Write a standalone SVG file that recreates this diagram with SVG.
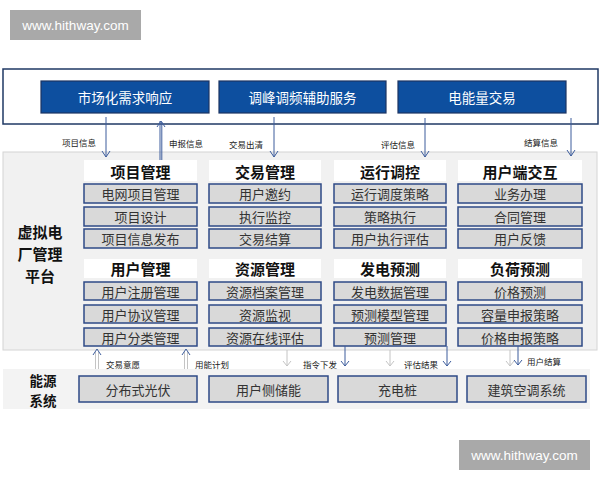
<svg xmlns="http://www.w3.org/2000/svg" width="600" height="480" viewBox="0 0 600 480">
<defs>
<style>
text{font-family:"Noto Sans CJK SC","Liberation Sans",sans-serif;text-anchor:middle;dominant-baseline:central}
.wm{fill:#a9a9a9}
.wmt{fill:#fff;font-size:13.5px;font-family:"Liberation Sans","Noto Sans",sans-serif}
.blue{fill:#0d4f9f;stroke:#1b3463;stroke-width:1.2}
.bt{fill:#fff;font-size:13.5px}
.hd{fill:#fff}
.ht{fill:#111;font-size:15px;font-weight:bold}
.it{fill:#d9d9d9;stroke:#2e4a86;stroke-width:1.5}
.itt{fill:#333;font-size:13px}
.lbl{fill:#222;font-size:8.5px}
.side{fill:#111;font-size:15px;font-weight:bold}
.ln{stroke:#3c5c9c;stroke-width:1;fill:none}
.gl{stroke:#c4c4c4;stroke-width:1;fill:none}
</style>
</defs>

<g id="watermark-top"><rect class="wm" x="10" y="10" width="131" height="30"/><text class="wmt" x="75.5" y="25">www.hithway.com</text></g>
<g id="watermark-bottom"><rect class="wm" x="459" y="440" width="131" height="30"/><text class="wmt" x="524.5" y="455">www.hithway.com</text></g>

<g id="market-frame"><rect x="3" y="69" width="595" height="55" fill="#fff" stroke="#1f3864" stroke-width="1.5"/></g>
<g id="market-1"><rect class="blue" x="41" y="81" width="168" height="32"/><text class="bt" x="125" y="97">市场化需求响应</text></g>
<g id="market-2"><rect class="blue" x="219" y="81" width="167" height="32"/><text class="bt" x="302.5" y="97">调峰调频辅助服务</text></g>
<g id="market-3"><rect class="blue" x="398" y="81" width="168" height="32"/><text class="bt" x="482" y="97">电能量交易</text></g>

<g id="platform-panel"><rect x="3" y="152" width="594" height="198" fill="#f1f1f1" stroke="#d4d4d4" stroke-width="1"/>
<text class="side" x="40" y="231">虚拟电</text><text class="side" x="40" y="253">厂管理</text><text class="side" x="40" y="275">平台</text></g>

<g id="project-mgmt">
<rect class="hd" x="84" y="160" width="113" height="21"/><text class="ht" x="140.5" y="171">项目管理</text>
<rect class="it" x="84" y="184" width="113" height="19"/><text class="itt" x="140.5" y="193.5">电网项目管理</text>
<rect class="it" x="84" y="207" width="113" height="19"/><text class="itt" x="140.5" y="216.5">项目设计</text>
<rect class="it" x="84" y="229" width="113" height="19"/><text class="itt" x="140.5" y="238.5">项目信息发布</text>
</g>
<g id="trade-mgmt">
<rect class="hd" x="209" y="160" width="112" height="21"/><text class="ht" x="265" y="171">交易管理</text>
<rect class="it" x="209" y="184" width="112" height="19"/><text class="itt" x="265" y="193.5">用户邀约</text>
<rect class="it" x="209" y="207" width="112" height="19"/><text class="itt" x="265" y="216.5">执行监控</text>
<rect class="it" x="209" y="229" width="112" height="19"/><text class="itt" x="265" y="238.5">交易结算</text>
</g>
<g id="dispatch">
<rect class="hd" x="334" y="160" width="112" height="21"/><text class="ht" x="390" y="171">运行调控</text>
<rect class="it" x="334" y="184" width="112" height="19"/><text class="itt" x="390" y="193.5">运行调度策略</text>
<rect class="it" x="334" y="207" width="112" height="19"/><text class="itt" x="390" y="216.5">策略执行</text>
<rect class="it" x="334" y="229" width="112" height="19"/><text class="itt" x="390" y="238.5">用户执行评估</text>
</g>
<g id="user-interact">
<rect class="hd" x="458" y="160" width="124" height="21"/><text class="ht" x="520" y="171">用户端交互</text>
<rect class="it" x="458" y="184" width="124" height="19"/><text class="itt" x="520" y="193.5">业务办理</text>
<rect class="it" x="458" y="207" width="124" height="19"/><text class="itt" x="520" y="216.5">合同管理</text>
<rect class="it" x="458" y="229" width="124" height="19"/><text class="itt" x="520" y="238.5">用户反馈</text>
</g>

<g id="user-mgmt">
<rect class="hd" x="84" y="259" width="113" height="19"/><text class="ht" x="140.5" y="268.5">用户管理</text>
<rect class="it" x="84" y="282" width="113" height="18"/><text class="itt" x="140.5" y="291">用户注册管理</text>
<rect class="it" x="84" y="305" width="113" height="18"/><text class="itt" x="140.5" y="314">用户协议管理</text>
<rect class="it" x="84" y="328" width="113" height="18"/><text class="itt" x="140.5" y="337">用户分类管理</text>
</g>
<g id="resource-mgmt">
<rect class="hd" x="209" y="259" width="112" height="19"/><text class="ht" x="265" y="268.5">资源管理</text>
<rect class="it" x="209" y="282" width="112" height="18"/><text class="itt" x="265" y="291">资源档案管理</text>
<rect class="it" x="209" y="305" width="112" height="18"/><text class="itt" x="265" y="314">资源监视</text>
<rect class="it" x="209" y="328" width="112" height="18"/><text class="itt" x="265" y="337">资源在线评估</text>
</g>
<g id="gen-forecast">
<rect class="hd" x="334" y="259" width="112" height="19"/><text class="ht" x="390" y="268.5">发电预测</text>
<rect class="it" x="334" y="282" width="112" height="18"/><text class="itt" x="390" y="291">发电数据管理</text>
<rect class="it" x="334" y="305" width="112" height="18"/><text class="itt" x="390" y="314">预测模型管理</text>
<rect class="it" x="334" y="328" width="112" height="18"/><text class="itt" x="390" y="337">预测管理</text>
</g>
<g id="load-forecast">
<rect class="hd" x="458" y="259" width="124" height="19"/><text class="ht" x="520" y="268.5">负荷预测</text>
<rect class="it" x="458" y="282" width="124" height="18"/><text class="itt" x="520" y="291">价格预测</text>
<rect class="it" x="458" y="305" width="124" height="18"/><text class="itt" x="520" y="314">容量申报策略</text>
<rect class="it" x="458" y="328" width="124" height="18"/><text class="itt" x="520" y="337">价格申报策略</text>
</g>

<g id="energy-panel"><rect x="3" y="369" width="587" height="40" fill="#f3f3f3"/>
<text class="side" x="43" y="380" style="font-size:13.5px">能源</text><text class="side" x="43" y="400" style="font-size:13.5px">系统</text></g>
<g id="pv"><rect class="it" x="79" y="376" width="118" height="26"/><text class="itt" x="138" y="389">分布式光伏</text></g>
<g id="storage"><rect class="it" x="209" y="376" width="119" height="26"/><text class="itt" x="268.5" y="389">用户侧储能</text></g>
<g id="charger"><rect class="it" x="338" y="376" width="119" height="26"/><text class="itt" x="397.5" y="389">充电桩</text></g>
<g id="hvac"><rect class="it" x="467" y="376" width="119" height="26"/><text class="itt" x="526.5" y="389">建筑空调系统</text></g>

<g id="connectors">
<path class="ln" d="M106 117V157M102 151L106 157L110 151"/>
<path class="ln" d="M160 160V121M161.8 160V122M157 127L161 121L165 127"/>
<path class="ln" d="M274 117V157M270 151L274 157L278 151"/>
<path class="ln" d="M425 118V157M421 151L425 157L429 151"/>
<path class="ln" d="M571 118V156M567 150L571 156L575 150"/>
<path class="gl" d="M95.5 369V352M98.5 369V352"/><path class="ln" d="M93 355L97 349L101 355"/>
<path class="gl" d="M184.5 369V352M187.5 369V352"/><path class="ln" d="M182 355L186 349L190 355"/>
<path class="gl" d="M287 350V366M283 361L287 366L291 361"/>
<path class="ln" d="M345 346V366M341 361L345 366L349 361"/>
<path class="gl" d="M390 350V366M386 361L390 366L394 361"/>
<path class="ln" d="M447 346V366M443 361L447 366L451 361"/>
<path class="gl" d="M510 350V366M506 361L510 366L514 361"/>
<path class="ln" d="M518 346V365M514 360L518 365L522 360"/>
</g>
<g id="labels">
<text class="lbl" x="79" y="142">项目信息</text>
<text class="lbl" x="186" y="143">申报信息</text>
<text class="lbl" x="246" y="144">交易出清</text>
<text class="lbl" x="398" y="144">评估信息</text>
<text class="lbl" x="541" y="142">结算信息</text>
<text class="lbl" x="123" y="364">交易意愿</text>
<text class="lbl" x="212" y="364">用能计划</text>
<text class="lbl" x="320" y="364">指令下发</text>
<text class="lbl" x="421" y="364">评估结果</text>
<text class="lbl" x="544" y="361">用户结算</text>
</g>
</svg>
